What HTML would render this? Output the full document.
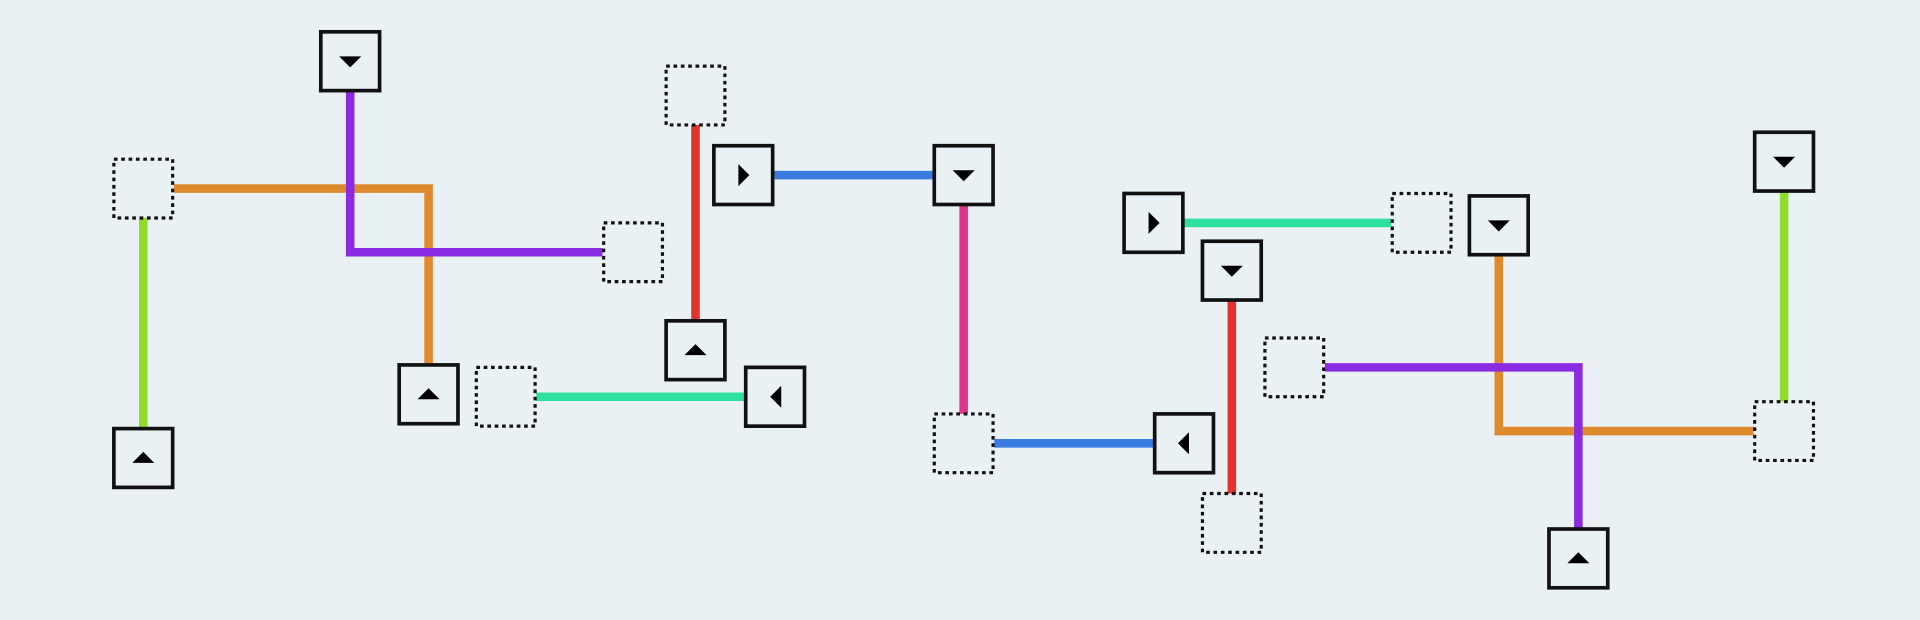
<!DOCTYPE html>
<html><head><style>html,body{margin:0;padding:0;background:#eaf1f4;}svg{display:block}</style></head>
<body>
<svg width="1920" height="620" viewBox="0 0 1568 506.3" preserveAspectRatio="none" xmlns="http://www.w3.org/2000/svg">
<rect width="1568" height="507" fill="#eaf1f4"/>
<g fill="none" stroke-width="7" stroke-linejoin="miter">
<polyline points="142,154 350,154 350,298" stroke="#e08a2e"/>
<line x1="117" y1="178" x2="117" y2="350" stroke="#8fdc2a"/>
<polyline points="286,74 286,206 492,206" stroke="#8a2be2"/>
<line x1="568" y1="102" x2="568" y2="262" stroke="#e0342c"/>
<line x1="632" y1="143" x2="762" y2="143" stroke="#3a7be0"/>
<line x1="787" y1="168" x2="787" y2="338" stroke="#e0348a"/>
<line x1="438" y1="324" x2="608" y2="324" stroke="#2ee0a0"/>
<line x1="812" y1="362" x2="942" y2="362" stroke="#3a7be0"/>
<line x1="967" y1="182" x2="1136" y2="182" stroke="#2ee0a0"/>
<line x1="1006" y1="246" x2="1006" y2="403" stroke="#e0342c"/>
<polyline points="1224,208 1224,352 1432,352" stroke="#e08a2e"/>
<polyline points="1082,300 1289,300 1289,432" stroke="#8a2be2"/>
<line x1="1457" y1="157" x2="1457" y2="328" stroke="#8fdc2a"/>
</g>
<g fill="#eaf1f4" stroke="#111" stroke-width="2.6" stroke-dasharray="3,3">
<rect x="93" y="130" width="48" height="48"/>
<rect x="493" y="182" width="48" height="48"/>
<rect x="544" y="54" width="48" height="48"/>
<rect x="389" y="300" width="48" height="48"/>
<rect x="763" y="338" width="48" height="48"/>
<rect x="1137" y="158" width="48" height="48"/>
<rect x="1033" y="276" width="48" height="48"/>
<rect x="982" y="403" width="48" height="48"/>
<rect x="1433" y="328" width="48" height="48"/>
</g>
<g fill="#eaf1f4" stroke="#111" stroke-width="3">
<rect x="262" y="26" width="48" height="48"/>
<rect x="93" y="350" width="48" height="48"/>
<rect x="326" y="298" width="48" height="48"/>
<rect x="544" y="262" width="48" height="48"/>
<rect x="583" y="119" width="48" height="48"/>
<rect x="763" y="119" width="48" height="48"/>
<rect x="609" y="300" width="48" height="48"/>
<rect x="918" y="158" width="48" height="48"/>
<rect x="982" y="197" width="48" height="48"/>
<rect x="943" y="338" width="48" height="48"/>
<rect x="1200" y="160" width="48" height="48"/>
<rect x="1433" y="108" width="48" height="48"/>
<rect x="1265" y="432" width="48" height="48"/>
</g>
<g fill="#000">
<polygon points="277,46 295,46 286,55"/>
<polygon points="108,378 126,378 117,369"/>
<polygon points="341,326 359,326 350,317"/>
<polygon points="559,290 577,290 568,281"/>
<polygon points="603,134 603,152 612,143"/>
<polygon points="778,139 796,139 787,148"/>
<polygon points="638,315 638,333 629,324"/>
<polygon points="938,173 938,191 947,182"/>
<polygon points="997,217 1015,217 1006,226"/>
<polygon points="971,353 971,371 962,362"/>
<polygon points="1215,180 1233,180 1224,189"/>
<polygon points="1448,128 1466,128 1457,137"/>
<polygon points="1280,460 1298,460 1289,451"/>
</g>
</svg>
</body></html>
